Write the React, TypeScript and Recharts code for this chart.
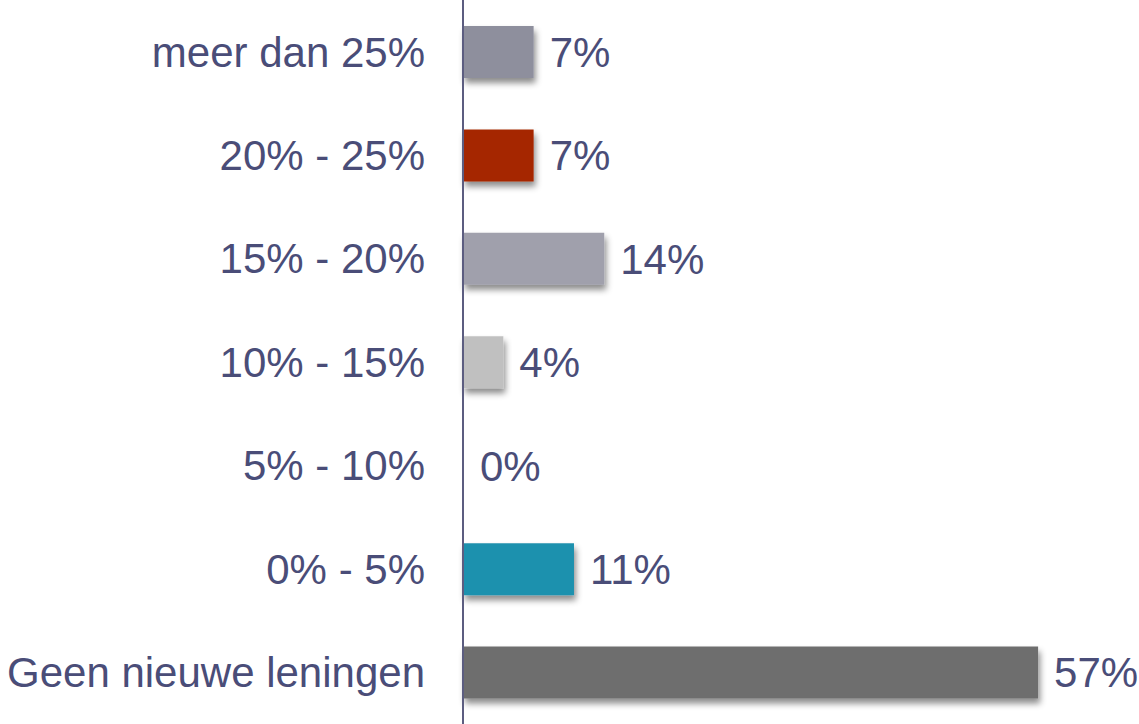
import React from "react";
import { BarChart, Bar, XAxis, YAxis, Cell, LabelList } from "recharts";

const categories = [
  "meer dan 25%",
  "20% - 25%",
  "15% - 20%",
  "10% - 15%",
  "5% - 10%",
  "0% - 5%",
  "Geen nieuwe leningen",
];
const shares = [7, 7, 14, 4, 0, 11, 57];
const barColors = ["#8e8f9d", "#a52800", "#a0a0ac", "#c0c0c0", "transparent", "#1f91ae", "#6e6e6e"];

const rows = categories.map((name, i) => ({ name, value: shares[i] }));

const textColor = "#4a4d78";
const font = "'Liberation Sans', Arial, sans-serif";

export default function App() {
  return (
    <div style={{ position: "absolute", left: 0, top: 0, background: "#fff" }}>
      <svg width={0} height={0} style={{ position: "absolute" }}>
        <defs>
          <filter id="barShadow" x="-10%" y="-20%" width="130%" height="160%">
            <feDropShadow dx="2" dy="5" stdDeviation="3" floodColor="#000" floodOpacity="0.45" />
          </filter>
        </defs>
      </svg>
      <BarChart
        width={1139}
        height={724}
        data={rows}
        layout="vertical"
        margin={{ top: 0, right: 0, bottom: 0, left: 0 }}
        barSize={52}
      >
        <XAxis type="number" domain={[0, 67]} hide />
        <YAxis
          type="category"
          dataKey="name"
          width={463}
          axisLine={{ stroke: "#5c5d80", strokeWidth: 2 }}
          tickLine={false}
          tickSize={0}
          tickMargin={38}
          tick={{ fill: textColor, fontSize: 42, fontFamily: font }}
          interval={0}
        />
        <Bar dataKey="value" isAnimationActive={false} minPointSize={1}>
          {rows.map((r, i) => (
            <Cell key={r.name} fill={barColors[i]} filter={r.value > 0 ? "url(#barShadow)" : undefined} />
          ))}
          <LabelList
            dataKey="value"
            position="right"
            offset={16}
            formatter={(v: any) => `${v}%`}
            style={{ fill: textColor, fontSize: 42, fontFamily: font }}
          />
        </Bar>
      </BarChart>
    </div>
  );
}
